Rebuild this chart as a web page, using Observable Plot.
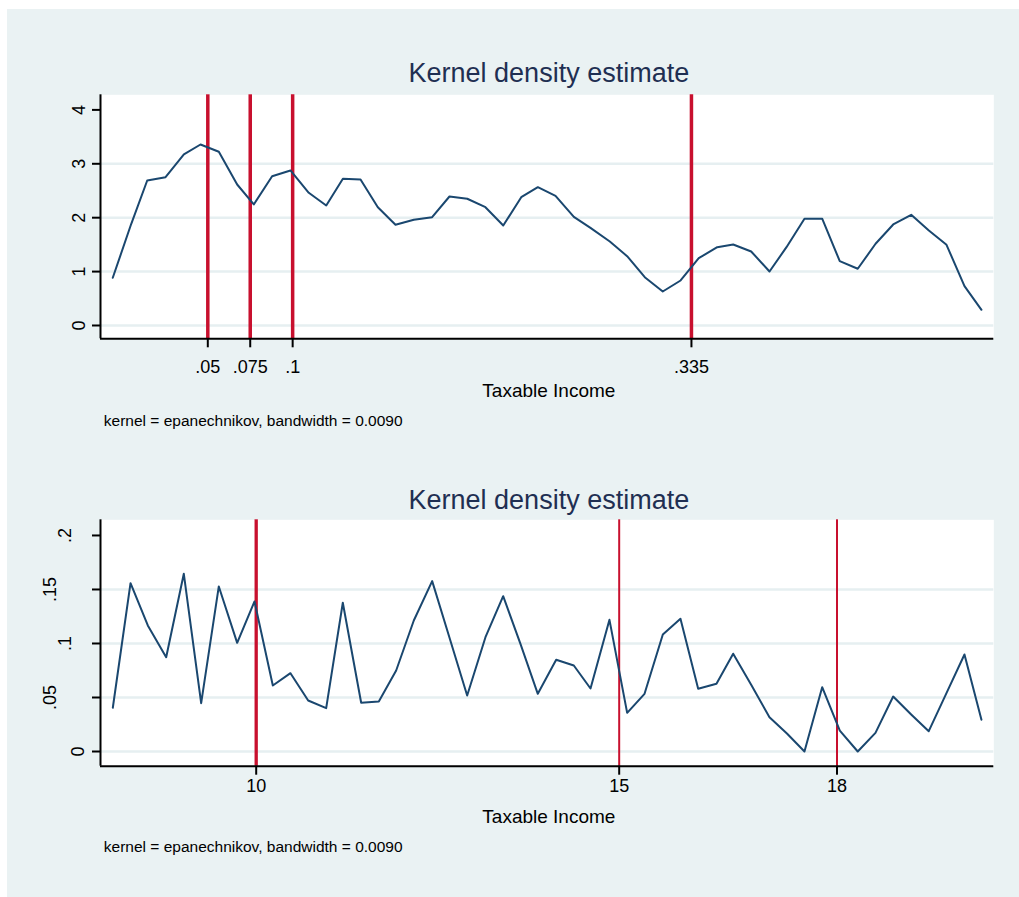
<!DOCTYPE html>
<html>
<head>
<meta charset="utf-8">
<script src="https://cdn.jsdelivr.net/npm/d3@7"></script>
<script src="https://cdn.jsdelivr.net/npm/@observablehq/plot@0.6"></script>
<style>
html, body { margin: 0; padding: 0; background: #ffffff; }
#wrap { position: relative; width: 1019px; height: 897px; overflow: hidden; }
#bg { position: absolute; left: 7px; top: 9px; right: 0; bottom: 0; background: #eaf2f3; }
.panel { position: absolute; left: 0; }
</style>
</head>
<body>
<div id="wrap">
  <div id="bg"></div>
  <div id="p1" class="panel" style="top:40px"></div>
  <div id="p2" class="panel" style="top:470px"></div>
</div>
<script>
// ---------- Data: top panel ----------
const topTitle = "Kernel density estimate";
const xLabel = "Taxable Income";
const caption = "kernel = epanechnikov, bandwidth = 0.0090";

const topX = [-0.0060, 0.0049, 0.0143, 0.0251, 0.0359, 0.0457, 0.0565, 0.0673, 0.0771, 0.0879,
  0.0987, 0.1095, 0.1198, 0.1296, 0.1400, 0.1502, 0.1606, 0.1714, 0.1822, 0.1924,
  0.2029, 0.2136, 0.2241, 0.2347, 0.2445, 0.2549, 0.2657, 0.2755, 0.2869, 0.2971,
  0.3075, 0.3181, 0.3286, 0.3393, 0.3502, 0.3596, 0.3702, 0.3810, 0.3910, 0.4016,
  0.4121, 0.4224, 0.4330, 0.4435, 0.4539, 0.4645, 0.4749, 0.4853, 0.4959, 0.5059];
const topY = [0.885, 1.887, 2.690, 2.751, 3.173, 3.358, 3.223, 2.616, 2.245, 2.770,
  2.876, 2.462, 2.226, 2.722, 2.709, 2.195, 1.868, 1.961, 2.009, 2.393,
  2.351, 2.195, 1.855, 2.380, 2.566, 2.405, 2.015, 1.810, 1.558, 1.286,
  0.896, 0.631, 0.835, 1.249, 1.453, 1.503, 1.373, 1.002, 1.453, 1.980,
  1.980, 1.193, 1.052, 1.516, 1.874, 2.054, 1.763, 1.497, 0.729, 0.291];
const topRules = [0.05, 0.075, 0.1, 0.335];
const topXTicks = [0.05, 0.075, 0.1, 0.335];
const topYTicks = [0, 1, 2, 3, 4];
const topGrid = [0, 1, 2, 3];

// ---------- Data: bottom panel ----------
const bottomX = [8.025, 8.269, 8.507, 8.760, 9.003, 9.242, 9.485, 9.738, 9.977, 10.229,
  10.472, 10.716, 10.964, 11.193, 11.446, 11.689, 11.928, 12.171, 12.424, 12.667,
  12.906, 13.158, 13.402, 13.640, 13.879, 14.132, 14.375, 14.605, 14.866, 15.110,
  15.349, 15.601, 15.844, 16.088, 16.340, 16.570, 16.818, 17.070, 17.314, 17.552,
  17.796, 18.039, 18.286, 18.530, 18.774, 19.022, 19.264, 19.508, 19.756, 19.990];
const bottomY = [0.0405, 0.1558, 0.1167, 0.0873, 0.1645, 0.0447, 0.1528, 0.1006, 0.1389, 0.0611,
  0.0725, 0.0472, 0.0401, 0.1377, 0.0451, 0.0463, 0.0750, 0.1213, 0.1577, 0.1044,
  0.0519, 0.1058, 0.1438, 0.0997, 0.0534, 0.0849, 0.0796, 0.0583, 0.1219, 0.0358,
  0.0534, 0.1083, 0.1229, 0.0581, 0.0627, 0.0905, 0.0618, 0.0318, 0.0164, 0.0000,
  0.0595, 0.0194, 0.0000, 0.0173, 0.0509, 0.0343, 0.0188, 0.0540, 0.0898, 0.0294];
const bottomRulesThick = [10];
const bottomRulesThin = [15, 18];
const bottomXTicks = [10, 15, 18];
const bottomYTicks = [0, 0.05, 0.1, 0.15, 0.2];
const bottomGrid = [0, 0.05, 0.1, 0.15];

// ---------- Styling ----------
const FONT = '"Liberation Sans", Arial, Helvetica, sans-serif';
const NAVY = "#1a476f";
const RED = "#c8102e";
const GRID = "#e6eff1";
const TITLE = "#1f2f52";
const stataFmt = d => String(d).replace(/^0\./, ".");

const topData = topX.map((x, i) => ({x, y: topY[i]}));
const bottomData = bottomX.map((x, i) => ({x, y: bottomY[i]}));

function texts(t) {
  return [
    Plot.text([topTitle], {text: d => d, frameAnchor: "top", dx: 1.7, dy: t.titleDy, lineAnchor: "bottom", fontSize: 27, fill: TITLE}),
    Plot.text([xLabel], {text: d => d, frameAnchor: "bottom", dx: 1.7, dy: t.labelDy, lineAnchor: "bottom", fontSize: 19, fill: "#000"}),
    Plot.text([caption], {text: d => d, frameAnchor: "bottom-left", textAnchor: "start", dx: 3.3, dy: t.capDy, lineAnchor: "bottom", fontSize: 15.5, fill: "#000"})
  ];
}

const xDomTop = [-0.01323, 0.51317];
const yDomTop = [-0.247, 4.28];
const plotTop = Plot.plot({
  width: 1019, height: 400,
  marginLeft: 100, marginRight: 25.7, marginTop: 54.3, marginBottom: 101.7,
  x: {type: "linear", domain: xDomTop},
  y: {type: "linear", domain: yDomTop},
  style: {fontFamily: FONT, fontSize: "18px", color: "#000", background: "transparent", overflow: "visible"},
  marks: [
    Plot.frame({fill: "white", stroke: null}),
    Plot.gridY(topGrid, {stroke: GRID, strokeOpacity: 1, strokeWidth: 2.5}),
    Plot.ruleX(topRules, {stroke: RED, strokeWidth: 3.5}),
    Plot.line(topData, {x: "x", y: "y", stroke: NAVY, strokeWidth: 2, strokeLinejoin: "round"}),
    Plot.ruleX([xDomTop[0]], {stroke: "#000", strokeWidth: 2}),
    Plot.ruleY([yDomTop[0]], {stroke: "#000", strokeWidth: 2}),
    Plot.axisX(topXTicks, {tickSize: 9, tickPadding: 12, tickFormat: stataFmt, strokeWidth: 2, fontSize: 18, label: null}),
    Plot.axisY(topYTicks, {tickSize: 8, tickPadding: 8, tickRotate: -90, tickFormat: stataFmt, strokeWidth: 2, fontSize: 18, label: null}),
    ...texts({titleDy: -13.3, labelDy: 58.4, capDy: 86.7})
  ]
});
document.getElementById("p1").appendChild(plotTop);

const xDomBot = [7.8554, 20.160];
const yDomBot = [-0.0136, 0.2145];
const plotBottom = Plot.plot({
  width: 1019, height: 400,
  marginLeft: 100, marginRight: 25.7, marginTop: 49.3, marginBottom: 104.3,
  x: {type: "linear", domain: xDomBot},
  y: {type: "linear", domain: yDomBot},
  style: {fontFamily: FONT, fontSize: "18px", color: "#000", background: "transparent", overflow: "visible"},
  marks: [
    Plot.frame({fill: "white", stroke: null}),
    Plot.gridY(bottomGrid, {stroke: GRID, strokeOpacity: 1, strokeWidth: 2.5}),
    Plot.ruleX(bottomRulesThick, {stroke: RED, strokeWidth: 3.3}),
    Plot.ruleX(bottomRulesThin, {stroke: RED, strokeWidth: 2}),
    Plot.line(bottomData, {x: "x", y: "y", stroke: NAVY, strokeWidth: 2, strokeLinejoin: "round"}),
    Plot.ruleX([xDomBot[0]], {stroke: "#000", strokeWidth: 2}),
    Plot.ruleY([yDomBot[0]], {stroke: "#000", strokeWidth: 2}),
    Plot.axisX(bottomXTicks, {tickSize: 9, tickPadding: 4, tickFormat: stataFmt, strokeWidth: 2, fontSize: 18, label: null}),
    Plot.axisY(bottomYTicks.filter(d => String(d).length === 1), {tickSize: 8, tickPadding: 9, tickRotate: -90, tickFormat: stataFmt, strokeWidth: 2, fontSize: 18, label: null}),
    Plot.axisY(bottomYTicks.filter(d => stataFmt(d).length === 2), {tickSize: 8, tickPadding: 22, tickRotate: -90, tickFormat: stataFmt, strokeWidth: 2, fontSize: 18, label: null}),
    Plot.axisY(bottomYTicks.filter(d => stataFmt(d).length === 3), {tickSize: 8, tickPadding: 37, tickRotate: -90, tickFormat: stataFmt, strokeWidth: 2, fontSize: 18, label: null}),
    ...texts({titleDy: -10.8, labelDy: 57, capDy: 85.3})
  ]
});
document.getElementById("p2").appendChild(plotBottom);
</script>
</body>
</html>
